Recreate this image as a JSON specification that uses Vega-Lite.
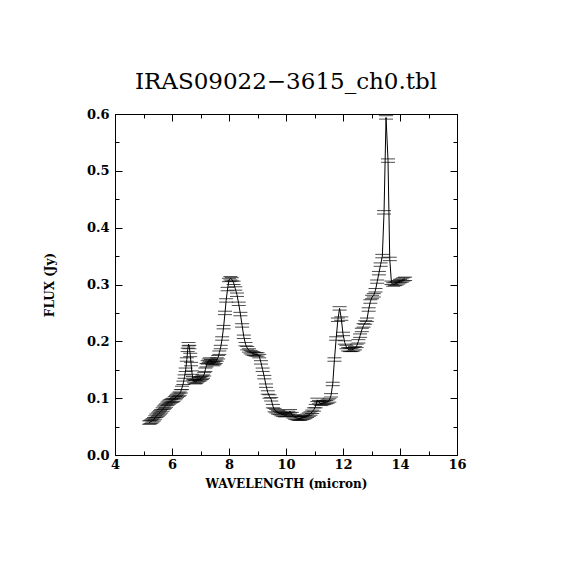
{
  "$schema": "https://vega.github.io/schema/vega-lite/v6.json",
  "width": 342,
  "height": 341,
  "autosize": {"type": "none"},
  "padding": {"left": 115, "top": 114, "right": 113, "bottom": 115},
  "background": "white",
  "title": {
    "text": "IRAS09022−3615_ch0.tbl",
    "font": "DejaVu Serif",
    "fontSize": 23,
    "fontWeight": "normal",
    "color": "black",
    "offset": 14
  },
  "data": {
    "values": [
      {"w": 5.20, "f": 0.057, "e": 0.003}, {"w": 5.24, "f": 0.058, "e": 0.003},
      {"w": 5.28, "f": 0.059, "e": 0.003}, {"w": 5.32, "f": 0.061, "e": 0.003},
      {"w": 5.37, "f": 0.063, "e": 0.003}, {"w": 5.41, "f": 0.066, "e": 0.003},
      {"w": 5.45, "f": 0.069, "e": 0.003}, {"w": 5.50, "f": 0.071, "e": 0.003},
      {"w": 5.54, "f": 0.073, "e": 0.003}, {"w": 5.58, "f": 0.075, "e": 0.003},
      {"w": 5.62, "f": 0.077, "e": 0.003}, {"w": 5.67, "f": 0.080, "e": 0.003},
      {"w": 5.71, "f": 0.083, "e": 0.003}, {"w": 5.75, "f": 0.085, "e": 0.003},
      {"w": 5.79, "f": 0.087, "e": 0.003}, {"w": 5.84, "f": 0.090, "e": 0.003},
      {"w": 5.88, "f": 0.092, "e": 0.003}, {"w": 5.92, "f": 0.094, "e": 0.003},
      {"w": 5.97, "f": 0.095, "e": 0.003}, {"w": 6.01, "f": 0.096, "e": 0.003},
      {"w": 6.05, "f": 0.097, "e": 0.003}, {"w": 6.10, "f": 0.100, "e": 0.003},
      {"w": 6.14, "f": 0.102, "e": 0.003}, {"w": 6.18, "f": 0.104, "e": 0.003},
      {"w": 6.23, "f": 0.106, "e": 0.003}, {"w": 6.27, "f": 0.108, "e": 0.003},
      {"w": 6.31, "f": 0.112, "e": 0.003}, {"w": 6.35, "f": 0.118, "e": 0.003},
      {"w": 6.40, "f": 0.127, "e": 0.003}, {"w": 6.44, "f": 0.138, "e": 0.003},
      {"w": 6.48, "f": 0.150, "e": 0.003}, {"w": 6.52, "f": 0.168, "e": 0.003},
      {"w": 6.55, "f": 0.185, "e": 0.003}, {"w": 6.58, "f": 0.195, "e": 0.003},
      {"w": 6.61, "f": 0.190, "e": 0.003}, {"w": 6.64, "f": 0.176, "e": 0.003},
      {"w": 6.67, "f": 0.160, "e": 0.003}, {"w": 6.70, "f": 0.145, "e": 0.003},
      {"w": 6.73, "f": 0.135, "e": 0.003}, {"w": 6.77, "f": 0.130, "e": 0.003},
      {"w": 6.81, "f": 0.128, "e": 0.003}, {"w": 6.85, "f": 0.129, "e": 0.003},
      {"w": 6.89, "f": 0.131, "e": 0.003}, {"w": 6.93, "f": 0.133, "e": 0.003},
      {"w": 6.97, "f": 0.133, "e": 0.003}, {"w": 7.01, "f": 0.135, "e": 0.003},
      {"w": 7.05, "f": 0.136, "e": 0.003}, {"w": 7.09, "f": 0.138, "e": 0.003},
      {"w": 7.13, "f": 0.142, "e": 0.003}, {"w": 7.17, "f": 0.150, "e": 0.003},
      {"w": 7.21, "f": 0.158, "e": 0.003}, {"w": 7.25, "f": 0.163, "e": 0.003},
      {"w": 7.29, "f": 0.166, "e": 0.003}, {"w": 7.33, "f": 0.168, "e": 0.003},
      {"w": 7.37, "f": 0.165, "e": 0.003}, {"w": 7.41, "f": 0.162, "e": 0.003},
      {"w": 7.45, "f": 0.160, "e": 0.003}, {"w": 7.49, "f": 0.162, "e": 0.003},
      {"w": 7.53, "f": 0.164, "e": 0.003}, {"w": 7.57, "f": 0.168, "e": 0.003},
      {"w": 7.62, "f": 0.172, "e": 0.003}, {"w": 7.66, "f": 0.180, "e": 0.003},
      {"w": 7.71, "f": 0.190, "e": 0.003}, {"w": 7.76, "f": 0.205, "e": 0.003},
      {"w": 7.81, "f": 0.225, "e": 0.003}, {"w": 7.86, "f": 0.250, "e": 0.003},
      {"w": 7.90, "f": 0.272, "e": 0.003}, {"w": 7.95, "f": 0.292, "e": 0.003},
      {"w": 8.00, "f": 0.308, "e": 0.003}, {"w": 8.05, "f": 0.311, "e": 0.003},
      {"w": 8.10, "f": 0.309, "e": 0.003}, {"w": 8.16, "f": 0.303, "e": 0.003},
      {"w": 8.22, "f": 0.293, "e": 0.003}, {"w": 8.28, "f": 0.282, "e": 0.003},
      {"w": 8.34, "f": 0.266, "e": 0.003}, {"w": 8.40, "f": 0.248, "e": 0.003},
      {"w": 8.46, "f": 0.228, "e": 0.003}, {"w": 8.52, "f": 0.208, "e": 0.003},
      {"w": 8.58, "f": 0.195, "e": 0.003}, {"w": 8.64, "f": 0.188, "e": 0.003},
      {"w": 8.70, "f": 0.184, "e": 0.003}, {"w": 8.76, "f": 0.181, "e": 0.003},
      {"w": 8.82, "f": 0.179, "e": 0.003}, {"w": 8.88, "f": 0.178, "e": 0.003},
      {"w": 8.94, "f": 0.177, "e": 0.003}, {"w": 9.00, "f": 0.177, "e": 0.003},
      {"w": 9.06, "f": 0.174, "e": 0.003}, {"w": 9.12, "f": 0.163, "e": 0.003},
      {"w": 9.18, "f": 0.150, "e": 0.003}, {"w": 9.24, "f": 0.137, "e": 0.003},
      {"w": 9.30, "f": 0.122, "e": 0.003}, {"w": 9.36, "f": 0.110, "e": 0.003},
      {"w": 9.42, "f": 0.103, "e": 0.003}, {"w": 9.48, "f": 0.098, "e": 0.003},
      {"w": 9.54, "f": 0.086, "e": 0.003}, {"w": 9.60, "f": 0.079, "e": 0.003},
      {"w": 9.66, "f": 0.077, "e": 0.003}, {"w": 9.72, "f": 0.075, "e": 0.003},
      {"w": 9.78, "f": 0.074, "e": 0.003}, {"w": 9.84, "f": 0.072, "e": 0.003},
      {"w": 9.90, "f": 0.071, "e": 0.003}, {"w": 9.96, "f": 0.070, "e": 0.003},
      {"w": 10.02, "f": 0.071, "e": 0.003}, {"w": 10.08, "f": 0.074, "e": 0.003},
      {"w": 10.14, "f": 0.077, "e": 0.003}, {"w": 10.20, "f": 0.072, "e": 0.003},
      {"w": 10.26, "f": 0.068, "e": 0.003}, {"w": 10.32, "f": 0.066, "e": 0.003},
      {"w": 10.38, "f": 0.065, "e": 0.003}, {"w": 10.44, "f": 0.064, "e": 0.003},
      {"w": 10.50, "f": 0.064, "e": 0.003}, {"w": 10.56, "f": 0.065, "e": 0.003},
      {"w": 10.62, "f": 0.066, "e": 0.003}, {"w": 10.68, "f": 0.067, "e": 0.003},
      {"w": 10.74, "f": 0.069, "e": 0.003}, {"w": 10.80, "f": 0.071, "e": 0.003},
      {"w": 10.86, "f": 0.073, "e": 0.003}, {"w": 10.92, "f": 0.076, "e": 0.003},
      {"w": 10.98, "f": 0.080, "e": 0.003}, {"w": 11.04, "f": 0.086, "e": 0.003},
      {"w": 11.10, "f": 0.097, "e": 0.003}, {"w": 11.16, "f": 0.093, "e": 0.003},
      {"w": 11.22, "f": 0.090, "e": 0.003}, {"w": 11.28, "f": 0.091, "e": 0.003},
      {"w": 11.34, "f": 0.092, "e": 0.003}, {"w": 11.40, "f": 0.093, "e": 0.003},
      {"w": 11.46, "f": 0.094, "e": 0.003}, {"w": 11.52, "f": 0.096, "e": 0.003},
      {"w": 11.58, "f": 0.105, "e": 0.003}, {"w": 11.64, "f": 0.125, "e": 0.003},
      {"w": 11.70, "f": 0.168, "e": 0.003}, {"w": 11.76, "f": 0.205, "e": 0.003},
      {"w": 11.82, "f": 0.238, "e": 0.003}, {"w": 11.88, "f": 0.258, "e": 0.003},
      {"w": 11.94, "f": 0.240, "e": 0.003}, {"w": 12.00, "f": 0.213, "e": 0.003},
      {"w": 12.06, "f": 0.198, "e": 0.003}, {"w": 12.12, "f": 0.190, "e": 0.003},
      {"w": 12.18, "f": 0.186, "e": 0.003}, {"w": 12.24, "f": 0.185, "e": 0.003},
      {"w": 12.30, "f": 0.185, "e": 0.003}, {"w": 12.36, "f": 0.186, "e": 0.003},
      {"w": 12.42, "f": 0.188, "e": 0.003}, {"w": 12.48, "f": 0.192, "e": 0.003},
      {"w": 12.54, "f": 0.200, "e": 0.003}, {"w": 12.60, "f": 0.210, "e": 0.003},
      {"w": 12.66, "f": 0.220, "e": 0.003}, {"w": 12.72, "f": 0.228, "e": 0.003},
      {"w": 12.78, "f": 0.233, "e": 0.003}, {"w": 12.84, "f": 0.238, "e": 0.003},
      {"w": 12.90, "f": 0.256, "e": 0.003}, {"w": 12.96, "f": 0.270, "e": 0.003},
      {"w": 13.02, "f": 0.278, "e": 0.003}, {"w": 13.08, "f": 0.281, "e": 0.003},
      {"w": 13.14, "f": 0.290, "e": 0.003}, {"w": 13.20, "f": 0.305, "e": 0.003},
      {"w": 13.26, "f": 0.320, "e": 0.003}, {"w": 13.32, "f": 0.335, "e": 0.003},
      {"w": 13.38, "f": 0.350, "e": 0.003}, {"w": 13.44, "f": 0.427, "e": 0.003},
      {"w": 13.51, "f": 0.594, "e": 0.003}, {"w": 13.58, "f": 0.518, "e": 0.003},
      {"w": 13.64, "f": 0.345, "e": 0.003}, {"w": 13.70, "f": 0.303, "e": 0.003},
      {"w": 13.76, "f": 0.300, "e": 0.003}, {"w": 13.82, "f": 0.301, "e": 0.003},
      {"w": 13.88, "f": 0.302, "e": 0.003}, {"w": 13.94, "f": 0.304, "e": 0.003},
      {"w": 14.00, "f": 0.306, "e": 0.003}, {"w": 14.06, "f": 0.307, "e": 0.003},
      {"w": 14.12, "f": 0.309, "e": 0.003}, {"w": 14.18, "f": 0.310, "e": 0.003}
    ]
  },
  "layer": [
    {
      "mark": {"type": "line", "color": "black", "strokeWidth": 1},
      "encoding": {
        "x": {
          "field": "w",
          "type": "quantitative",
          "scale": {"domain": [4, 16], "nice": false, "zero": false},
          "axis": {
            "orient": "bottom",
            "title": "WAVELENGTH (micron)",
            "values": [4, 5, 6, 7, 8, 9, 10, 11, 12, 13, 14, 15, 16],
            "labelExpr": "datum.value % 2 === 0 ? datum.label : ''",
            "labelFlush": false,
            "tickSize": {"condition": {"test": "datum.value % 2 === 0", "value": -7}, "value": -4},
            "labelPadding": 10,
            "titlePadding": 7
          }
        },
        "y": {
          "field": "f",
          "type": "quantitative",
          "scale": {"domain": [0, 0.6], "nice": false},
          "axis": {
            "orient": "left",
            "title": "FLUX (Jy)",
            "values": [0, 0.05, 0.1, 0.15, 0.2, 0.25, 0.3, 0.35, 0.4, 0.45, 0.5, 0.55, 0.6],
            "labelExpr": "round(datum.value * 20) % 2 === 0 ? format(datum.value, '.1f') : ''",
            "labelFlush": false,
            "tickSize": {"condition": {"test": "round(datum.value * 20) % 2 === 0", "value": -7}, "value": -4},
            "labelPadding": 13,
            "titlePadding": 30
          }
        }
      }
    },
    {
      "transform": [{"calculate": "datum.f + datum.e", "as": "hi"}],
      "mark": {"type": "tick", "orient": "horizontal", "size": 14, "thickness": 1, "color": "black"},
      "encoding": {
        "x": {
          "field": "w",
          "type": "quantitative",
          "axis": {
            "orient": "top",
            "title": null,
            "labels": false,
            "values": [4, 5, 6, 7, 8, 9, 10, 11, 12, 13, 14, 15, 16],
            "tickSize": {"condition": {"test": "datum.value % 2 === 0", "value": -7}, "value": -4}
          }
        },
        "y": {
          "field": "hi",
          "type": "quantitative",
          "axis": {
            "orient": "right",
            "title": null,
            "labels": false,
            "values": [0, 0.05, 0.1, 0.15, 0.2, 0.25, 0.3, 0.35, 0.4, 0.45, 0.5, 0.55, 0.6],
            "tickSize": {"condition": {"test": "round(datum.value * 20) % 2 === 0", "value": -7}, "value": -4}
          }
        }
      }
    },
    {
      "transform": [{"calculate": "datum.f - datum.e", "as": "lo"}],
      "mark": {"type": "tick", "orient": "horizontal", "size": 14, "thickness": 1, "color": "black"},
      "encoding": {
        "x": {"field": "w", "type": "quantitative", "axis": null},
        "y": {"field": "lo", "type": "quantitative", "axis": null}
      }
    }
  ],
  "config": {
    "view": {"stroke": "black", "strokeWidth": 1},
    "axis": {
      "grid": false,
      "domainColor": "black",
      "tickColor": "black",
      "labelColor": "black",
      "titleColor": "black",
      "labelFont": "DejaVu Serif",
      "labelFontSize": 13,
      "labelFontWeight": "bold",
      "titleFont": "DejaVu Serif",
      "titleFontSize": 12,
      "titleFontWeight": "bold"
    }
  }
}
